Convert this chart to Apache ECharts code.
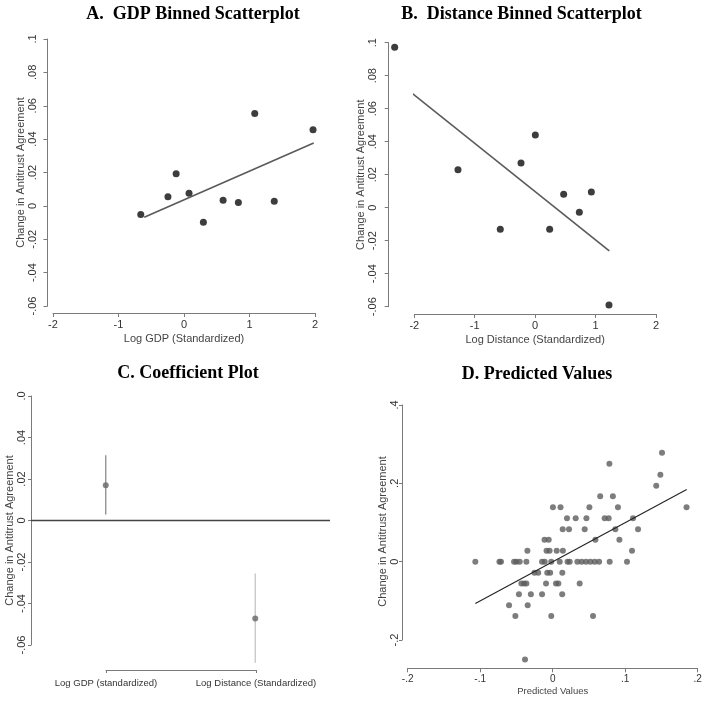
<!DOCTYPE html>
<html><head><meta charset="utf-8">
<script src="https://cdn.jsdelivr.net/npm/echarts@6/dist/echarts.min.js"></script>
<style>html,body{margin:0;padding:0;background:#fff}#c{width:714px;height:710px}</style>
</head><body><div id="c"></div>
<script>
// Panel A: GDP binned scatter
const gdpX = [-0.66, -0.245, -0.12, 0.077, 0.296, 0.597, 0.83, 1.08, 1.378, 1.97];
const gdpY = [-0.0052, 0.0054, 0.0193, 0.0076, -0.0098, 0.0034, 0.002, 0.0554, 0.0028, 0.0456];
const gdpFitX = [-0.607, 1.98];
const gdpFitY = [-0.0068, 0.0377];
// Panel B: Distance binned scatter
const distX = [-2.325, -1.277, -0.577, -0.234, 0.003, 0.24, 0.472, 0.731, 0.93, 1.222];
const distY = [0.0972, 0.0230, -0.0131, 0.0271, 0.0440, -0.0131, 0.0081, -0.0028, 0.0095, -0.059];
const distFitX = [-2.325, 1.227];
const distFitY = [0.0778, -0.0261];
// Panel C: coefficients
const coefNames = ['Log GDP (standardized)', 'Log Distance (Standardized)'];
const coefEst = [0.017, -0.0472];
const coefLow = [0.0029, -0.0686];
const coefHigh = [0.0315, -0.0255];
// Panel D: predicted vs actual
const predX = [0.1508, 0.0782, 0.1485, 0.1428, 0.0655, 0.083,
  0.0003, 0.0108, 0.0506, 0.09, 0.1846,
  0.0197, 0.0317, 0.0465, 0.0717, 0.0772, 0.1108,
  0.0138, 0.0225, 0.0441, 0.0864, 0.1177,
  -0.0113, -0.0055, 0.0589, 0.092,
  -0.0349, -0.0085, -0.0043, 0.0055, 0.014, 0.1094,
  -0.1067, -0.0735, -0.0713, -0.0533, -0.0501, -0.0455, -0.0363, -0.0147, -0.011, -0.002, 0.0097, 0.0205, 0.0235, 0.034, 0.040, 0.046, 0.052, 0.058, 0.064, 0.0786, 0.1025,
  -0.0252, -0.02, -0.0075, -0.0035, 0.0133,
  -0.0432, -0.0395, -0.0363, -0.0092, 0.0045, 0.0078, 0.0372,
  -0.0466, -0.0301, -0.0147, 0.0131,
  -0.0602, -0.0345,
  -0.0515, -0.002, 0.0556,
  -0.0382];
const actY = [0.278, 0.25, 0.222, 0.194, 0.167, 0.167,
  0.139, 0.139, 0.139, 0.139, 0.139,
  0.111, 0.111, 0.111, 0.111, 0.111, 0.111,
  0.083, 0.083, 0.083, 0.083, 0.083,
  0.056, 0.056, 0.056, 0.056,
  0.028, 0.028, 0.028, 0.028, 0.028, 0.028,
  0, 0, 0, 0, 0, 0, 0, 0, 0, 0, 0, 0, 0, 0, 0, 0, 0, 0, 0, 0, 0,
  -0.028, -0.028, -0.028, -0.028, -0.028,
  -0.056, -0.056, -0.056, -0.056, -0.056, -0.056, -0.056,
  -0.083, -0.083, -0.083, -0.083,
  -0.111, -0.111,
  -0.139, -0.139, -0.139,
  -0.25];
const predFitX = [-0.1067, 0.1848];
const predFitY = [-0.107, 0.184];
// Tick labels
const yTicksAB = ['-.06', '-.04', '-.02', '0', '.02', '.04', '.06', '.08', '.1'];
const xTicksAB = ['-2', '-1', '0', '1', '2'];
const yTicksC = ['-.06', '-.04', '-.02', '0', '.02', '.04', '.0'];
const yTicksD = ['-.2', '0', '.2', '.4'];
const xTicksD = ['-.2', '-.1', '0', '.1', '.2'];
const yName = 'Change in Antitrust Agreement';

const zip = (a, b) => a.map((v, i) => [v, b[i]]);
const SANS = '"Liberation Sans", Arial, sans-serif';
const axLine = {show: true, onZero: false, lineStyle: {color: '#7a7a7a', width: 1}};
const lab = (arr, min, step, extra) => Object.assign({
  color: '#333', fontSize: 11, fontFamily: SANS,
  formatter: v => arr[Math.round((v - min) / step)]
}, extra || {});
const nameStyle = {color: '#444', fontSize: 11, fontFamily: SANS};

function yAx(idx, min, max, step, arr, offset, margin, gap, extra, namePad) {
  return Object.assign({
    type: 'value', gridIndex: idx, min: min, max: max, interval: step, offset: offset,
    axisLine: axLine, axisTick: {show: true, length: 4, lineStyle: {color: '#7a7a7a'}},
    splitLine: {show: false},
    axisLabel: lab(arr, min, step, {rotate: 90, margin: margin}),
    name: yName, nameLocation: 'middle', nameRotate: 90, nameGap: gap,
    nameTextStyle: Object.assign({}, nameStyle, namePad ? {padding: namePad} : {})
  }, extra || {});
}
function xAx(idx, min, max, step, arr, offset, margin, name, gap, nameSize, labSize) {
  return {
    type: 'value', gridIndex: idx, min: min, max: max, interval: step, offset: offset,
    axisLine: axLine, axisTick: {show: true, length: 4, lineStyle: {color: '#7a7a7a'}},
    splitLine: {show: false},
    axisLabel: lab(arr, min, step, {margin: margin, fontSize: labSize || 11}),
    name: name, nameLocation: 'middle', nameGap: gap,
    nameTextStyle: Object.assign({}, nameStyle, {fontSize: nameSize || 11})
  };
}

const chart = echarts.init(document.getElementById('c'), null, {renderer: 'canvas'});
const titleFont = 'bold 18px "Liberation Serif", "Times New Roman", serif';
chart.setOption({
  animation: false,
  backgroundColor: '#fff',
  graphic: [
    {type: 'text', x: 193, y: 14, style: {text: 'A.  GDP Binned Scatterplot', font: titleFont, fill: '#000', align: 'center', verticalAlign: 'middle'}},
    {type: 'text', x: 521.5, y: 14, style: {text: 'B.  Distance Binned Scatterplot', font: titleFont, fill: '#000', align: 'center', verticalAlign: 'middle'}},
    {type: 'text', x: 188, y: 373, style: {text: 'C. Coefficient Plot', font: titleFont, fill: '#000', align: 'center', verticalAlign: 'middle'}},
    {type: 'text', x: 537, y: 374, style: {text: 'D. Predicted Values', font: titleFont, fill: '#000', align: 'center', verticalAlign: 'middle'}}
  ],
  grid: [
    {left: 53, top: 39, width: 262, height: 267},
    {left: 414.3, top: 42.7, width: 241.7, height: 264},
    {left: 31, top: 396, width: 299, height: 249},
    {left: 106, top: 396, width: 150, height: 249},
    {left: 407.7, top: 405, width: 290, height: 235}
  ],
  xAxis: [
    xAx(0, -2, 2, 1, xTicksAB, 7, 6, 'Log GDP (Standardized)', 20),
    xAx(1, -2, 2, 1, xTicksAB, 7.3, 6, 'Log Distance (Standardized)', 20),
    {type: 'category', gridIndex: 2, data: coefNames, boundaryGap: true, show: false},
    {type: 'category', gridIndex: 3, data: coefNames, boundaryGap: false, offset: 25,
      axisLine: axLine, axisTick: {show: true, length: 3, lineStyle: {color: '#7a7a7a'}},
      axisLabel: {color: '#333', fontSize: 9.5, fontFamily: SANS, margin: 8, interval: 0}},
    xAx(4, -0.2, 0.2, 0.1, xTicksD, 28.3, 6, 'Predicted Values', 18, 9.5, 10)
  ],
  yAxis: [
    yAx(0, -0.06, 0.1, 0.02, yTicksAB, 5.5, 9, 21),
    yAx(1, -0.06, 0.1, 0.02, yTicksAB, 25.6, 10, 22),
    yAx(2, -0.06, 0.06, 0.02, yTicksC, 0, 4, 13, {axisTick: {show: true, length: 3, lineStyle: {color: '#7a7a7a'}}}, [0, 20, 0, 0]),
    {type: 'value', gridIndex: 3, min: -0.06, max: 0.06, show: false},
    yAx(4, -0.2, 0.4, 0.2, yTicksD, 5.7, 2, 12.5, {axisTick: {show: true, length: 3, lineStyle: {color: '#7a7a7a'}}}, [0, 18, 0, 0])
  ],
  series: [
    {type: 'line', xAxisIndex: 0, yAxisIndex: 0, data: zip(gdpFitX, gdpFitY), showSymbol: false, symbol: 'none',
      lineStyle: {color: '#5a5a5a', width: 1.6}, clip: false, silent: true},
    {type: 'scatter', xAxisIndex: 0, yAxisIndex: 0, data: zip(gdpX, gdpY), symbolSize: 7,
      itemStyle: {color: '#0d0d0d'}, clip: false},
    {type: 'line', xAxisIndex: 1, yAxisIndex: 1, data: zip(distFitX, distFitY), showSymbol: false, symbol: 'none',
      lineStyle: {color: '#5a5a5a', width: 1.6}, clip: false, silent: true},
    {type: 'scatter', xAxisIndex: 1, yAxisIndex: 1, data: zip(distX, distY), symbolSize: 7,
      itemStyle: {color: '#0d0d0d'}, clip: false},
    {type: 'custom', xAxisIndex: 2, yAxisIndex: 2,
      data: coefNames.map((n, i) => [i, coefLow[i], coefHigh[i]]),
      renderItem: (params, api) => {
        const i = api.value(0);
        const p1 = api.coord([i, api.value(1)]);
        const p2 = api.coord([i, api.value(2)]);
        return {type: 'line', shape: {x1: p1[0], y1: p1[1], x2: p2[0], y2: p2[1]},
          style: {stroke: i === 0 ? '#8a8a8a' : '#c4c4c4', lineWidth: 1.3}};
      }},
    {type: 'scatter', xAxisIndex: 2, yAxisIndex: 2, data: coefEst, symbolSize: 6,
      itemStyle: {color: '#666'},
      markLine: {silent: true, symbol: 'none', label: {show: false},
        lineStyle: {color: '#444', width: 1.3, type: 'solid'}, data: [{yAxis: 0}]}},
    {type: 'scatter', xAxisIndex: 4, yAxisIndex: 4, data: zip(predX, actY), symbolSize: 6,
      itemStyle: {color: '#5c5c5c'}, clip: false},
    {type: 'line', xAxisIndex: 4, yAxisIndex: 4, data: zip(predFitX, predFitY), showSymbol: false, symbol: 'none',
      lineStyle: {color: '#222', width: 1.1}, clip: false, silent: true}
  ]
});
</script></body></html>
